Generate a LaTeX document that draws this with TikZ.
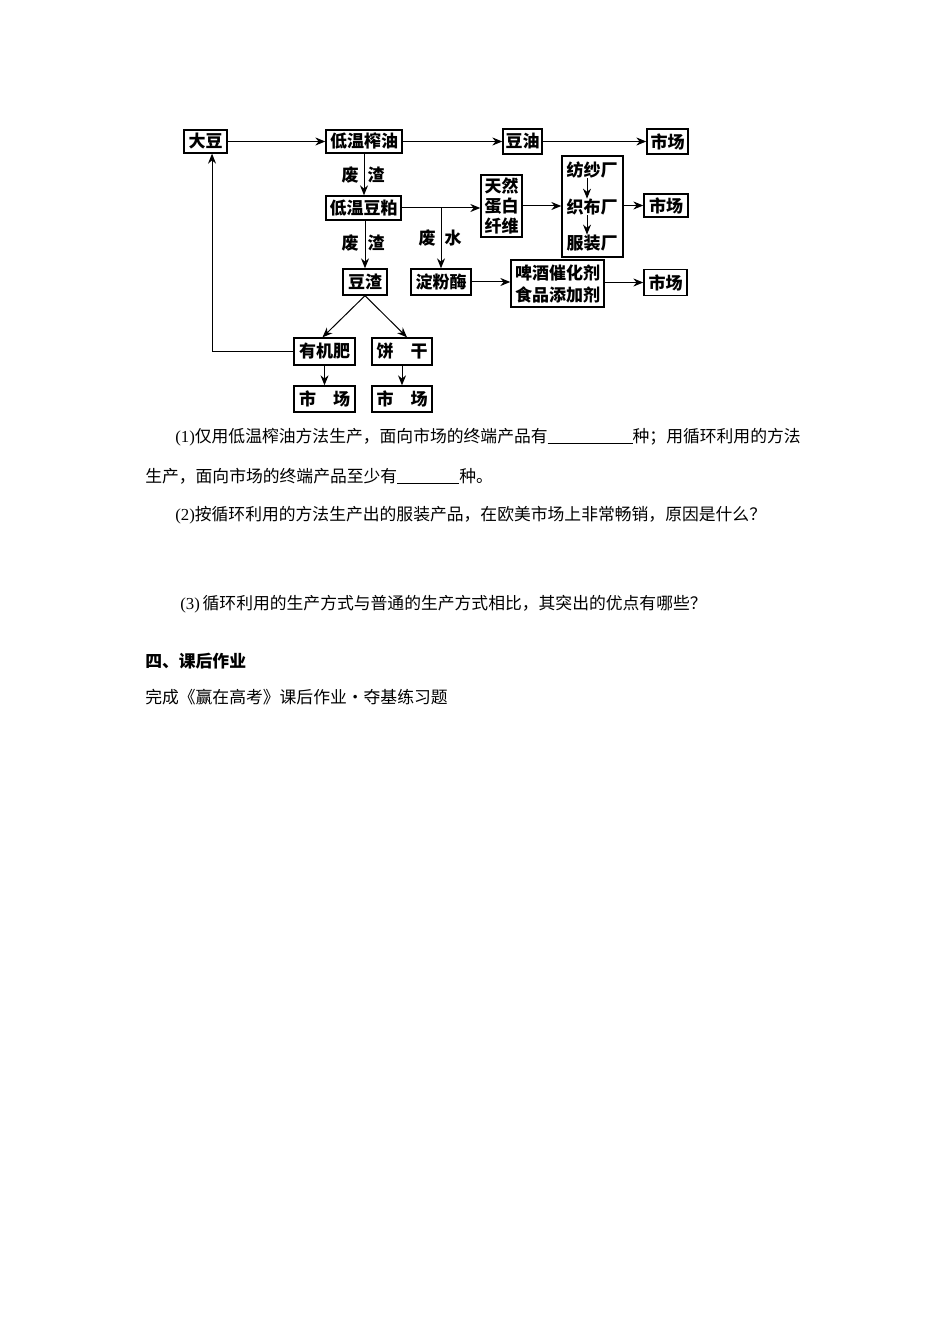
\documentclass[tikz,border=0pt]{standalone}
\usepackage{fontspec}
\setmainfont{Liberation Serif}
\newfontfamily\cjk{Noto Sans CJK SC}
\usetikzlibrary{arrows.meta,calc}
\begin{document}
\begin{tikzpicture}[x=0.75pt,y=-0.75pt,
  bx/.style={draw, line width=1pt, inner sep=0pt, align=center,
    font=\cjk\bfseries\fontsize{12.75}{15}\selectfont},
  lbl/.style={inner sep=0pt, font=\cjk\bfseries\fontsize{12.75}{15}\selectfont},
  arr/.style={-{Stealth[length=7.5pt,width=6pt]}, line width=0.75pt},
  ln/.style={line width=0.75pt},
  body/.style={anchor=base west, inner sep=0pt, font=\fontsize{12.6}{15}\selectfont}]
\useasboundingbox[fill=white] (0,0) rectangle (950,1344);

% boxes
\node[bx, minimum width=32.25pt, minimum height=17.25pt] (dadou) at (205.5,141.5) {大豆};
\node[bx, minimum width=57pt, minimum height=17.25pt] (zhayou) at (364,141.5) {低温榨油};
\node[bx, minimum width=29.25pt, minimum height=18.75pt] (douyou) at (522.5,141.5) {豆油};
\node[bx, minimum width=30.75pt, minimum height=18.75pt] (sc1) at (667.5,141.5) {市场};
\node[bx, minimum width=56.25pt, minimum height=18pt] (doupo) at (363.5,208) {低温豆粕};
\node[bx, minimum width=30.75pt, minimum height=46.5pt] (tianran) at (501.5,206) {天然\\蛋白\\纤维};
\node[bx, minimum width=45.75pt, minimum height=75.75pt] (big) at (592.5,206.5) {};
\node[lbl] (f1) at (592,170) {纺纱厂};
\node[lbl] (f2) at (592,207) {织布厂};
\node[lbl] (f3) at (592,243) {服装厂};
\node[bx, minimum width=33pt, minimum height=17.25pt] (sc2) at (666,205.5) {市场};
\node[bx, minimum width=33pt, minimum height=19.5pt] (douzha) at (365,282) {豆渣};
\node[bx, minimum width=45pt, minimum height=19.5pt] (dianfen) at (441,282) {淀粉酶};
\node[bx, minimum width=69.75pt, minimum height=35.25pt, font=\cjk\bfseries\fontsize{12.75}{16.5}\selectfont] (pijiu) at (557.5,283.5) {啤酒催化剂\\食品添加剂};
\node[bx, minimum width=32.25pt, minimum height=19.5pt] (sc3) at (665.5,282.5) {市场};
\node[bx, minimum width=45.75pt, minimum height=20.25pt] (youji) at (324.5,351.5) {有机肥};
\node[bx, minimum width=45pt, minimum height=20.25pt] (binggan) at (402,351.5) {饼\quad 干};
\node[bx, minimum width=45.75pt, minimum height=19.5pt] (sc4) at (324.5,399) {市\quad 场};
\node[bx, minimum width=45pt, minimum height=19.5pt] (sc5) at (402,399) {市\quad 场};

% labels
\node[lbl] (fz1a) at (350,175) {废};
\node[lbl] (fz1b) at (376,175) {渣};
\node[lbl] (fz2a) at (350,243) {废};
\node[lbl] (fz2b) at (376,243) {渣};
\node[lbl] (fsa) at (427,238) {废};
\node[lbl] (fsb) at (453,238) {水};

% connectors
\draw[arr] (dadou.east) -- (zhayou.west);
\draw[arr] (zhayou.east) -- (douyou.west);
\draw[arr] (douyou.east) -- (sc1.west);
\draw[arr] (zhayou.south) -- (zhayou.south |- doupo.north);
\draw[arr] (doupo.east) -- (doupo.east -| tianran.west);
\coordinate (br) at (doupo.east -| dianfen.north);
\draw[arr] (br) -- (dianfen.north);
\draw[arr] (tianran.east) -- (tianran.east -| big.west);
\draw[arr] (big.east |- sc2.west) -- (sc2.west);
\draw[arr] ([xshift=-3.75pt]f1.south) -- ([xshift=-3.75pt]f2.north);
\draw[arr] ([xshift=-3.75pt]f2.south) -- ([xshift=-3.75pt]f3.north);
\draw[arr] (doupo.south -| douzha.north) -- (douzha.north);
\draw[arr] (dianfen.east) -- (dianfen.east -| pijiu.west);
\draw[arr] (pijiu.east |- sc3.west) -- (sc3.west);
\draw[arr] (douzha.south) -- ([xshift=-1.5pt]youji.north);
\draw[arr] (douzha.south) -- ([xshift=3.75pt]binggan.north);
\draw[arr] (youji.south) -- (sc4.north);
\draw[arr] (binggan.south) -- (sc5.north);
\draw[arr] (youji.west) -| ([xshift=4.9pt]dadou.south);

% body text
\node[body] (t1) at (175,442) {(1){\cjk 仅用低温榨油方法生产，面向市场的终端产品有}\rule[-1.5pt]{63.75pt}{0.6pt}{\cjk 种；用循环利用的方法}};
\node[body] (t2) at (145,482) {{\cjk 生产，面向市场的终端产品至少有}\rule[-1.5pt]{46.5pt}{0.6pt}{\cjk 种。}};
\node[body] (t3) at (175,520) {(2){\cjk 按循环利用的方法生产出的服装产品，在欧美市场上非常畅销，原因是什么？}};
\node[body] (t4) at (180,609) {(3)\,{\cjk 循环利用的生产方式与普通的生产方式相比，其突出的优点有哪些？}};
\node[body, font=\cjk\bfseries\fontsize{12.6}{15}\selectfont] (t5) at (145,667) {四、课后作业};
\node[body, font=\cjk\fontsize{12.6}{15}\selectfont] (t6) at (145,703) {完成《赢在高考》课后作业•夺基练习题};
\end{tikzpicture}
\end{document}
